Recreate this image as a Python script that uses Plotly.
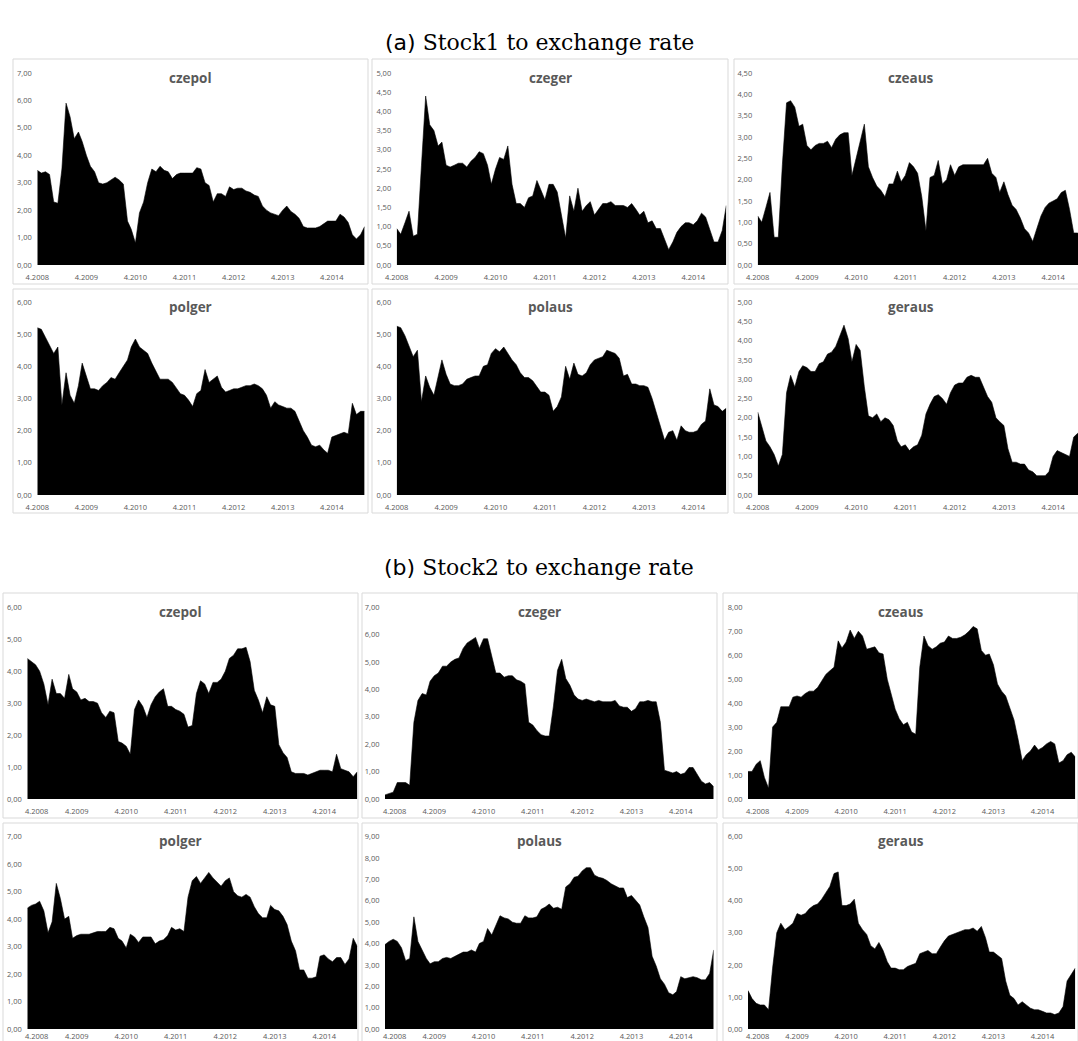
import pandas as pd
import plotly.graph_objects as go

# Monthly observations, April 2008 - December 2014
months = pd.date_range("2008-04-01", "2014-12-01", freq="MS")

# ---- (a) Stock1 to exchange rate ----
a_czepol = [3.45, 3.35, 3.4, 3.3, 2.3, 2.25, 3.5, 5.9, 5.4, 4.6,
            4.85, 4.5, 4.0, 3.6, 3.4, 3.0, 2.95, 3.0, 3.1, 3.2,
            3.1, 2.95, 1.6, 1.3, 0.8, 1.9, 2.3, 3.0, 3.5, 3.4,
            3.6, 3.45, 3.4, 3.15, 3.3, 3.35, 3.35, 3.35, 3.35, 3.55,
            3.5, 3.0, 2.9, 2.3, 2.6, 2.6, 2.5, 2.85, 2.75, 2.8,
            2.8, 2.7, 2.65, 2.55, 2.5, 2.15, 2.0, 1.9, 1.85, 1.8,
            2.0, 2.15, 1.95, 1.85, 1.7, 1.4, 1.35, 1.35, 1.35, 1.4,
            1.5, 1.6, 1.6, 1.6, 1.85, 1.75, 1.55, 1.1, 0.95, 1.1,
            1.4]
a_czeger = [0.95, 0.8, 1.1, 1.4, 0.75, 0.8, 2.6, 4.4, 3.65, 3.5,
            3.1, 3.2, 2.6, 2.55, 2.6, 2.65, 2.65, 2.55, 2.7, 2.8,
            2.95, 2.9, 2.6, 2.1, 2.5, 2.8, 2.75, 3.1, 2.1, 1.6,
            1.6, 1.5, 1.75, 1.8, 2.2, 1.95, 1.7, 2.1, 2.1, 1.9,
            1.3, 0.7, 1.8, 1.4, 2.0, 1.4, 1.55, 1.65, 1.3, 1.45,
            1.6, 1.6, 1.65, 1.55, 1.55, 1.55, 1.5, 1.6, 1.45, 1.3,
            1.4, 1.1, 1.15, 0.95, 0.95, 0.65, 0.4, 0.6, 0.85, 1.0,
            1.1, 1.1, 1.05, 1.15, 1.35, 1.25, 0.95, 0.6, 0.6, 0.9,
            1.55]
a_czeaus = [1.15, 1.0, 1.35, 1.7, 0.65, 0.65, 2.35, 3.8, 3.85, 3.7,
            3.25, 3.3, 2.8, 2.7, 2.8, 2.85, 2.85, 2.9, 2.75, 2.95,
            3.05, 3.1, 3.1, 2.1, 2.5, 2.9, 3.3, 2.3, 2.05, 1.85,
            1.75, 1.6, 1.9, 1.9, 2.2, 1.95, 2.1, 2.4, 2.3, 2.15,
            1.6, 0.8, 2.05, 2.1, 2.45, 1.9, 2.0, 2.35, 2.1, 2.3,
            2.35, 2.35, 2.35, 2.35, 2.35, 2.35, 2.5, 2.15, 2.05, 1.7,
            1.95, 1.65, 1.4, 1.3, 1.1, 0.85, 0.75, 0.55, 0.85, 1.15,
            1.35, 1.45, 1.5, 1.55, 1.7, 1.75, 1.3, 0.75, 0.75, 0.5,
            0.5]
a_polger = [5.2, 5.15, 4.9, 4.65, 4.4, 4.6, 2.8, 3.8, 3.1, 2.85,
            3.4, 4.1, 3.7, 3.3, 3.3, 3.25, 3.4, 3.5, 3.65, 3.6,
            3.8, 4.0, 4.2, 4.6, 4.85, 4.6, 4.5, 4.4, 4.1, 3.85,
            3.6, 3.6, 3.6, 3.5, 3.3, 3.15, 3.1, 2.95, 2.75, 3.15,
            3.25, 3.9, 3.5, 3.6, 3.7, 3.35, 3.2, 3.25, 3.3, 3.3,
            3.35, 3.4, 3.4, 3.45, 3.4, 3.3, 3.1, 2.7, 2.9, 2.8,
            2.75, 2.7, 2.7, 2.6, 2.3, 2.0, 1.8, 1.55, 1.5, 1.55,
            1.4, 1.3, 1.8, 1.85, 1.9, 1.95, 1.9, 2.85, 2.5, 2.6,
            2.6]
a_polaus = [5.25, 5.2, 4.95, 4.65, 4.3, 4.5, 2.9, 3.7, 3.35, 3.1,
            3.7, 4.2, 3.75, 3.45, 3.4, 3.4, 3.45, 3.6, 3.65, 3.7,
            3.7, 4.0, 4.05, 4.4, 4.55, 4.45, 4.6, 4.4, 4.2, 4.05,
            3.8, 3.65, 3.65, 3.55, 3.35, 3.2, 3.2, 3.1, 2.6, 2.75,
            3.05, 4.0, 3.6, 4.1, 3.75, 3.7, 3.8, 4.05, 4.2, 4.25,
            4.3, 4.5, 4.45, 4.4, 4.25, 3.7, 3.75, 3.45, 3.45, 3.4,
            3.4, 3.35, 3.0, 2.55, 2.15, 1.7, 1.95, 2.0, 1.7, 2.15,
            2.0, 1.95, 1.95, 2.0, 2.2, 2.3, 3.3, 2.8, 2.75, 2.6,
            2.7]
a_geraus = [2.15, 1.75, 1.4, 1.25, 1.05, 0.75, 1.05, 2.65, 3.1, 2.8,
            3.2, 3.35, 3.3, 3.2, 3.2, 3.4, 3.45, 3.65, 3.7, 3.85,
            4.1, 4.4, 4.05, 3.45, 3.9, 3.75, 2.8, 2.05, 2.0, 2.1,
            1.9, 2.0, 1.95, 1.8, 1.4, 1.25, 1.3, 1.15, 1.25, 1.3,
            1.55, 2.1, 2.35, 2.55, 2.6, 2.5, 2.35, 2.65, 2.85, 2.9,
            2.9, 3.05, 3.1, 3.05, 3.05, 2.8, 2.55, 2.4, 2.0, 1.9,
            1.8, 1.2, 0.85, 0.85, 0.8, 0.8, 0.65, 0.6, 0.5, 0.5,
            0.5, 0.6, 1.0, 1.15, 1.1, 1.05, 1.0, 1.5, 1.6, 1.6,
            1.6]

# ---- (b) Stock2 to exchange rate ----
b_czepol = [4.4, 4.3, 4.2, 4.0, 3.6, 2.95, 3.75, 3.3, 3.3, 3.15,
            3.9, 3.45, 3.35, 3.1, 3.15, 3.05, 3.05, 3.0, 2.7, 2.55,
            2.75, 2.7, 1.8, 1.75, 1.65, 1.4, 2.8, 3.1, 2.9, 2.55,
            2.95, 3.2, 3.35, 3.45, 2.9, 2.9, 2.8, 2.75, 2.65, 2.25,
            2.3, 3.3, 3.7, 3.6, 3.3, 3.65, 3.65, 3.75, 4.0, 4.4,
            4.5, 4.7, 4.7, 4.75, 4.3, 3.4, 3.1, 2.7, 3.2, 2.95,
            2.9, 1.7, 1.45, 1.3, 0.85, 0.8, 0.8, 0.8, 0.75, 0.8,
            0.85, 0.9, 0.9, 0.9, 0.85, 1.4, 0.95, 0.9, 0.85, 0.7,
            0.85]
b_czeger = [0.15, 0.2, 0.25, 0.6, 0.6, 0.6, 0.5, 2.8, 3.6, 3.85,
            3.8, 4.3, 4.5, 4.6, 4.85, 4.85, 5.0, 5.1, 5.15, 5.5,
            5.7, 5.8, 5.9, 5.5, 5.85, 5.85, 5.2, 4.6, 4.6, 4.45,
            4.5, 4.5, 4.35, 4.3, 4.2, 2.8, 2.7, 2.5, 2.35, 2.3,
            2.3, 3.4, 4.7, 5.1, 4.4, 4.15, 3.8, 3.65, 3.6, 3.65,
            3.6, 3.55, 3.6, 3.55, 3.55, 3.55, 3.6, 3.4, 3.35, 3.35,
            3.2, 3.3, 3.55, 3.55, 3.6, 3.55, 3.55, 2.8, 1.05, 1.0,
            0.95, 1.0, 0.9, 0.95, 1.15, 1.15, 0.9, 0.65, 0.55, 0.6,
            0.45]
b_czeaus = [1.15, 1.15, 1.45, 1.6, 0.9, 0.45, 3.0, 3.2, 3.85, 3.85,
            3.85, 4.25, 4.3, 4.25, 4.4, 4.5, 4.5, 4.65, 4.9, 5.2,
            5.35, 5.5, 6.6, 6.3, 6.55, 7.05, 6.7, 7.0, 6.8, 6.25,
            6.3, 6.35, 6.1, 6.05, 5.0, 4.4, 3.75, 3.35, 3.1, 3.2,
            2.8, 2.7, 5.5, 6.8, 6.4, 6.25, 6.35, 6.5, 6.55, 6.8,
            6.7, 6.7, 6.75, 6.85, 7.0, 7.2, 7.1, 6.2, 6.0, 6.05,
            5.6, 4.8, 4.5, 4.3, 3.75, 3.3, 2.5, 1.6, 1.85, 2.0,
            2.25, 2.05, 2.15, 2.3, 2.4, 2.3, 1.5, 1.6, 1.85, 1.95,
            1.75]
b_polger = [4.4, 4.5, 4.55, 4.65, 4.3, 3.5, 3.9, 5.3, 4.75, 4.0,
            4.1, 3.3, 3.4, 3.45, 3.45, 3.45, 3.5, 3.55, 3.55, 3.55,
            3.7, 3.65, 3.3, 3.2, 2.95, 3.45, 3.35, 3.15, 3.35, 3.35,
            3.35, 3.1, 3.2, 3.25, 3.4, 3.7, 3.6, 3.65, 3.55, 4.8,
            5.4, 5.55, 5.3, 5.5, 5.7, 5.5, 5.35, 5.2, 5.4, 5.5,
            5.0, 4.85, 4.8, 4.9, 4.8, 4.45, 4.2, 4.05, 4.05, 4.5,
            4.35, 4.3, 4.1, 3.8, 3.2, 2.85, 2.15, 2.15, 1.85, 1.85,
            1.9, 2.65, 2.7, 2.55, 2.45, 2.6, 2.6, 2.35, 2.55, 3.3,
            3.0]
b_polaus = [3.95, 4.1, 4.2, 4.1, 3.8, 3.2, 3.3, 5.25, 4.1, 3.7,
            3.3, 3.05, 3.15, 3.15, 3.3, 3.35, 3.3, 3.4, 3.5, 3.6,
            3.6, 3.7, 3.6, 4.0, 4.1, 4.7, 4.4, 4.85, 5.3, 5.2,
            5.15, 5.0, 4.95, 4.95, 5.3, 5.2, 5.2, 5.25, 5.6, 5.7,
            5.85, 5.65, 5.7, 5.6, 6.65, 6.8, 7.1, 7.15, 7.4, 7.55,
            7.55, 7.2, 7.1, 7.05, 6.95, 6.8, 6.7, 6.6, 6.6, 6.15,
            6.25, 6.05, 5.8, 5.25, 4.75, 3.4, 2.95, 2.35, 2.1, 1.7,
            1.6, 1.75, 2.45, 2.35, 2.4, 2.45, 2.4, 2.3, 2.3, 2.6,
            3.7]
b_geraus = [1.2, 0.95, 0.8, 0.75, 0.75, 0.6, 1.9, 3.0, 3.3, 3.1,
            3.2, 3.3, 3.6, 3.55, 3.6, 3.75, 3.85, 3.9, 4.05, 4.25,
            4.45, 4.85, 4.9, 3.85, 3.85, 3.9, 4.05, 3.3, 3.1, 2.95,
            2.6, 2.5, 2.7, 2.45, 2.1, 1.9, 1.9, 1.85, 1.85, 1.95,
            2.0, 2.05, 2.35, 2.4, 2.45, 2.35, 2.35, 2.55, 2.75, 2.9,
            2.95, 3.0, 3.05, 3.1, 3.1, 3.15, 3.05, 3.2, 2.85, 2.4,
            2.4, 2.3, 2.2, 1.5, 1.05, 0.95, 0.75, 0.85, 0.75, 0.65,
            0.6, 0.6, 0.55, 0.5, 0.5, 0.45, 0.5, 0.7, 1.5, 1.7,
            1.9]

# Axis maxima and tick steps for each panel
a_axes = [(7, 1.0), (5, 0.5), (4.5, 0.5), (6, 1.0), (6, 1.0), (5, 0.5)]
b_axes = [(6, 1.0), (7, 1.0), (8, 1.0), (7, 1.0), (9, 1.0), (6, 1.0)]
titles = ["czepol", "czeger", "czeaus", "polger", "polaus", "geraus"]

# ---- page geometry (pixels) ----
W, H = 1078, 1041
TEXT = "#595959"
BORDER = "#d9d9d9"
TICK_FONT = dict(family="Open Sans", size=7.5, color=TEXT)

# plot areas: (top, bottom) per row, (left, right) per column
A_ROWS = [(73, 265), (302, 495)]
B_ROWS = [(607.3, 799), (836.7, 1029)]
A_COLS = [(37.3, 364.6), (396.7, 726.3), (757.7, 1086)]
B_COLS = [(27.3, 357.3), (385, 713.7), (748, 1075.3)]
# panel frames
A_BOX_ROWS = [(59, 284), (289, 513)]
B_BOX_ROWS = [(593, 818), (823, 1048)]
A_BOX_COLS = [(13, 368), (372, 728), (734, 1088)]
B_BOX_COLS = [(3, 358), (362, 717), (723, 1078)]
A_TITLE_Y = [78, 306.7]
B_TITLE_Y = [611.7, 841]

panels = []
a_series = [a_czepol, a_czeger, a_czeaus, a_polger, a_polaus, a_geraus]
b_series = [b_czepol, b_czeger, b_czeaus, b_polger, b_polaus, b_geraus]
for k in range(6):
    r, c = divmod(k, 3)
    panels.append(dict(vals=a_series[k], title=titles[k], axis=a_axes[k],
                       rows=A_ROWS[r], cols=A_COLS[c], brow=A_BOX_ROWS[r],
                       bcol=A_BOX_COLS[c], ty=A_TITLE_Y[r],
                       ticklen=5, first_inset=None))
for k in range(6):
    r, c = divmod(k, 3)
    panels.append(dict(vals=b_series[k], title=titles[k], axis=b_axes[k],
                       rows=B_ROWS[r], cols=B_COLS[c], brow=B_BOX_ROWS[r],
                       bcol=B_BOX_COLS[c], ty=B_TITLE_Y[r],
                       ticklen=0 if r == 1 else 5, first_inset=9))

fig = go.Figure()
t0, t1 = months[0], months[-1]
tick_dates = pd.date_range("2008-04-01", "2014-04-01", freq="12MS")
tick_text = [f"{d.month}.{d.year}" for d in tick_dates]

shapes, annotations = [], []
for i, p in enumerate(panels, start=1):
    sx = "" if i == 1 else str(i)
    x0, x1 = p["cols"]
    top, bot = p["rows"]
    # clip the plot area at the page edge
    x1c = min(x1, W)
    t_end = t0 + (t1 - t0) * ((x1c - x0) / (x1 - x0))

    fig.add_trace(go.Scatter(
        x=months, y=p["vals"], mode="lines",
        line=dict(color="black", width=0.6),
        fill="tozeroy", fillcolor="black",
        xaxis="x" + sx, yaxis="y" + sx,
        hoverinfo="skip", showlegend=False))

    ymax, step = p["axis"]
    n = int(round(ymax / step))
    yt = [j * step for j in range(n + 1)]
    ytext = [f"{v:.2f}".replace(".", ",") for v in yt]

    xtext = list(tick_text)
    if p["first_inset"] is not None:
        # first date label sits a little inside the plot edge
        xtext[0] = ""
        annotations.append(dict(
            text=tick_text[0], xref="paper", yref="paper",
            x=(x0 + p["first_inset"]) / W,
            y=1 - (bot + p["ticklen"] + 7) / H,
            xanchor="center", yanchor="middle", showarrow=False,
            font=TICK_FONT))

    fig.layout["xaxis" + sx] = dict(
        domain=[x0 / W, x1c / W], anchor="y" + sx,
        range=[t0, t_end], type="date", automargin=False,
        tickvals=tick_dates, ticktext=xtext,
        ticks="outside", ticklen=p["ticklen"],
        tickcolor="rgba(0,0,0,0)", tickfont=TICK_FONT,
        showgrid=False, zeroline=False, showline=False)
    fig.layout["yaxis" + sx] = dict(
        domain=[1 - bot / H, 1 - top / H], anchor="x" + sx,
        range=[0, ymax], tickvals=yt, ticktext=ytext, automargin=False,
        ticks="outside", ticklen=3, tickcolor="rgba(0,0,0,0)",
        tickfont=TICK_FONT,
        showgrid=False, zeroline=False, showline=False)

    bx0, bx1 = p["bcol"]
    by0, by1 = p["brow"]
    shapes.append(dict(type="rect", xref="paper", yref="paper",
                       x0=bx0 / W, x1=bx1 / W, y0=1 - by1 / H, y1=1 - by0 / H,
                       line=dict(color=BORDER, width=1), layer="below"))
    annotations.append(dict(text=p["title"], xref="paper", yref="paper",
                            x=(bx0 + bx1) / 2 / W, y=1 - p["ty"] / H,
                            xanchor="center", yanchor="middle", showarrow=False,
                            font=dict(family="Open Sans", size=13.5, color=TEXT,
                                      weight="bold")))

for label, caption, ty in [("(a)", "Stock1 to exchange rate", 42),
                           ("(b)", "Stock2 to exchange rate", 567)]:
    annotations.append(dict(
        text=f'<span style="font-family:DejaVu Sans">{label}</span> {caption}',
        xref="paper", yref="paper", x=539 / W, y=1 - ty / H,
        xanchor="center", yanchor="middle", showarrow=False,
        font=dict(family="DejaVu Serif", size=22, color="black")))

fig.update_layout(
    width=W, height=H, autosize=False,
    margin=dict(l=0, r=0, t=0, b=0, autoexpand=False),
    paper_bgcolor="white", plot_bgcolor="white",
    shapes=shapes, annotations=annotations)

fig.write_html("out.html")
